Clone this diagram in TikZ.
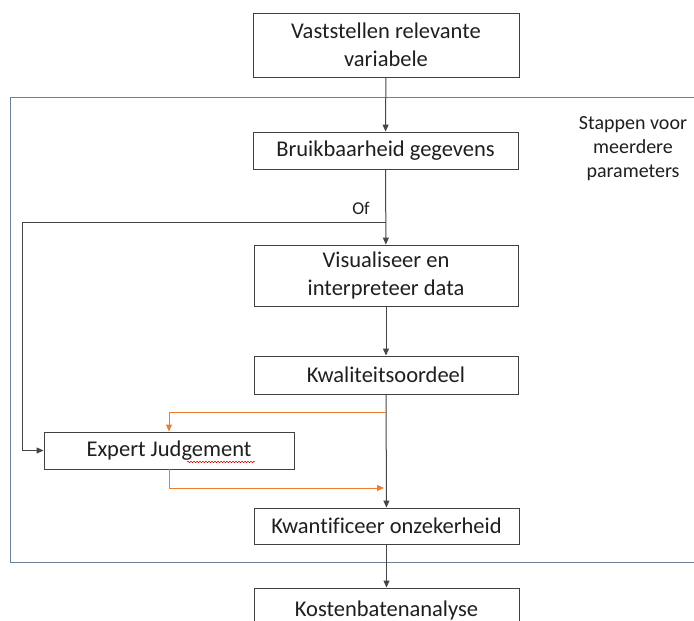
\documentclass[tikz,border=0pt]{standalone}
\usepackage{fontspec}
\setmainfont[Ligatures=NoCommon]{Carlito}
\usetikzlibrary{arrows.meta,decorations.pathmorphing}
\definecolor{boxline}{RGB}{64,64,64}
\definecolor{conline}{RGB}{70,70,70}
\definecolor{frameblue}{RGB}{110,128,150}
\definecolor{flowor}{RGB}{237,125,49}
\tikzset{
  stepbox/.style={draw=boxline, line width=0.9pt, fill=white, align=center,
    inner sep=0pt, font=\fontsize{22.5}{28}\selectfont, text=black!88},
  conn/.style={draw=conline, line width=1pt, -{Triangle[length=7pt,width=6pt]}},
  orflow/.style={draw=flowor, line width=0.9pt, -{Triangle[length=7pt,width=6pt]}},
  note/.style={align=center, font=\fontsize{20}{24}\selectfont, text=black!88}
}
\begin{document}
\begin{tikzpicture}[x=1pt,y=-1pt]
\useasboundingbox (0,0) rectangle (694,621);
\clip (0,0) rectangle (694,621);
\fill[white] (0,0) rectangle (694,621);

% frame around the per-parameter steps
\draw[frameblue, line width=0.9pt] (10,97) rectangle (710,562);
\node[note] (stappen) at (633,149) {Stappen voor\\meerdere\\parameters};

% process boxes
\node[stepbox, minimum width=266pt, minimum height=64pt] (vast) at (386,45) {Vaststellen relevante\\variabele};
\node[stepbox, minimum width=265pt, minimum height=37pt] (bruik) at (385.5,150.5) {Bruikbaarheid gegevens};
\node[stepbox, minimum width=264pt, minimum height=61pt] (visu) at (386,275.5) {Visualiseer en\\interpreteer data};
\node[stepbox, minimum width=264pt, minimum height=38pt] (kwal) at (386,375) {Kwaliteitsoordeel};
\node[stepbox, minimum width=250pt, minimum height=37pt] (expert) at (169,450.5) {Expert Judgement};
\node[stepbox, minimum width=265pt, minimum height=36pt] (kwan) at (386.5,526) {Kwantificeer onzekerheid};
\node[stepbox, minimum width=265pt, minimum height=44pt] (kost) at (386.5,610) {Kostenbatenanalyse};

% spelling mark under "Judgement"
\draw[red!80!black, line width=0.5pt, decorate,
  decoration={snake, amplitude=0.8pt, segment length=3pt}] (187,462) -- (255,462);

% junction points
\coordinate (ofj) at (386,222);
\coordinate (ofl) at (22,222);
\coordinate (o1) at (386,412);
\coordinate (o2) at (384,488);

% main flow
\draw[conn] (vast) -- (bruik);
\draw[conn] (bruik) -- (visu);
\draw[conn] (visu) -- (kwal);
\draw[conn] (kwal) -- (kwan);
\draw[conn] (kwan) -- (kost);

% alternative route to expert judgement
\node[font=\fontsize{18}{21}\selectfont, text=black!88] (of) at (361,208) {Of};
\draw[conn] (ofj) -- (ofl) |- (expert.west);

% feedback between quality judgement and expert judgement
\draw[orflow] (o1) -| (expert.north);
\draw[orflow] (expert.south) |- (o2);
\end{tikzpicture}
\end{document}
